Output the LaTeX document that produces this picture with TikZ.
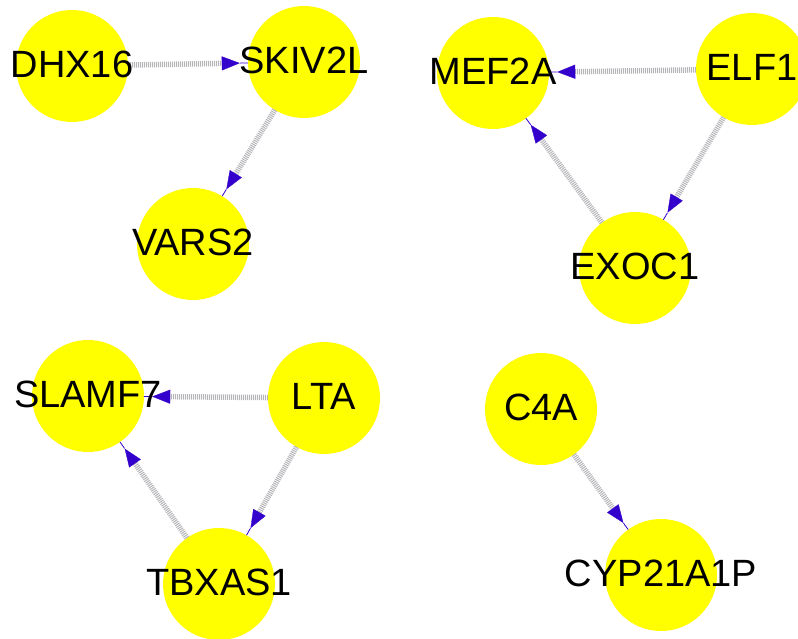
\documentclass[tikz,border=0pt]{standalone}
\usepackage{fontspec}
\setmainfont{Liberation Sans}
\usetikzlibrary{arrows.meta,calc}
\definecolor{geneyellow}{RGB}{255,255,0}
\definecolor{tipblue}{RGB}{51,0,204}
\definecolor{edgegray}{RGB}{180,180,185}
\tikzset{
  gene/.style={circle,fill=geneyellow,draw=none,minimum size=112pt,inner sep=0pt},
  genetext/.style={font=\fontsize{38}{38}\selectfont,inner sep=0pt,text=black,yshift=1.5pt},
  edge/.style={draw=edgegray,line width=5.5pt,dash pattern=on 1pt off 1pt,shorten >=8pt,
    -{Triangle[length=18pt,width=14pt,color=tipblue,line width=0.3pt]}},
  tipline/.style={draw=tipblue,line width=0.8pt}
}
\begin{document}
\begin{tikzpicture}[x=1pt,y=-1pt]
\useasboundingbox (0,0) rectangle (798,639);
\clip (0,0) rectangle (798,639);
% circles
\node[gene] (dhx16) at (72,66) {};
\node[gene] (skiv2l) at (304,62) {};
\node[gene] (vars2) at (193,244) {};
\node[gene] (mef2a) at (493,73) {};
\node[gene] (elf1) at (752,69) {};
\node[gene] (exoc1) at (635,268) {};
\node[gene] (slamf7) at (88,396) {};
\node[gene] (lta) at (324,398) {};
\node[gene] (tbxas1) at (219,584) {};
\node[gene] (c4a) at (541,409) {};
\node[gene] (cyp) at (661,575) {};
% edges
\foreach \a/\b in {dhx16/skiv2l, skiv2l/vars2, elf1/mef2a, elf1/exoc1, exoc1/mef2a,
                   lta/slamf7, lta/tbxas1, tbxas1/slamf7, c4a/cyp}{
  \draw[edge] (\a) -- (\b);
  \draw[tipline] ($(\b.center)!64pt!(\a.center)$) -- ($(\b.center)!56pt!(\a.center)$);
}
% labels
\node[genetext] (dhx16t) at (dhx16) {DHX16};
\node[genetext] (skiv2lt) at (skiv2l) {SKIV2L};
\node[genetext] (vars2t) at (vars2) {VARS2};
\node[genetext] (mef2at) at (mef2a) {MEF2A};
\node[genetext] (elf1t) at (elf1) {ELF1};
\node[genetext] (exoc1t) at (exoc1) {EXOC1};
\node[genetext] (slamf7t) at (slamf7) {SLAMF7};
\node[genetext] (ltat) at (lta) {LTA};
\node[genetext] (tbxas1t) at (tbxas1) {TBXAS1};
\node[genetext] (c4at) at (c4a) {C4A};
\node[genetext] (cypt) at (cyp) {CYP21A1P};
\end{tikzpicture}
\end{document}
